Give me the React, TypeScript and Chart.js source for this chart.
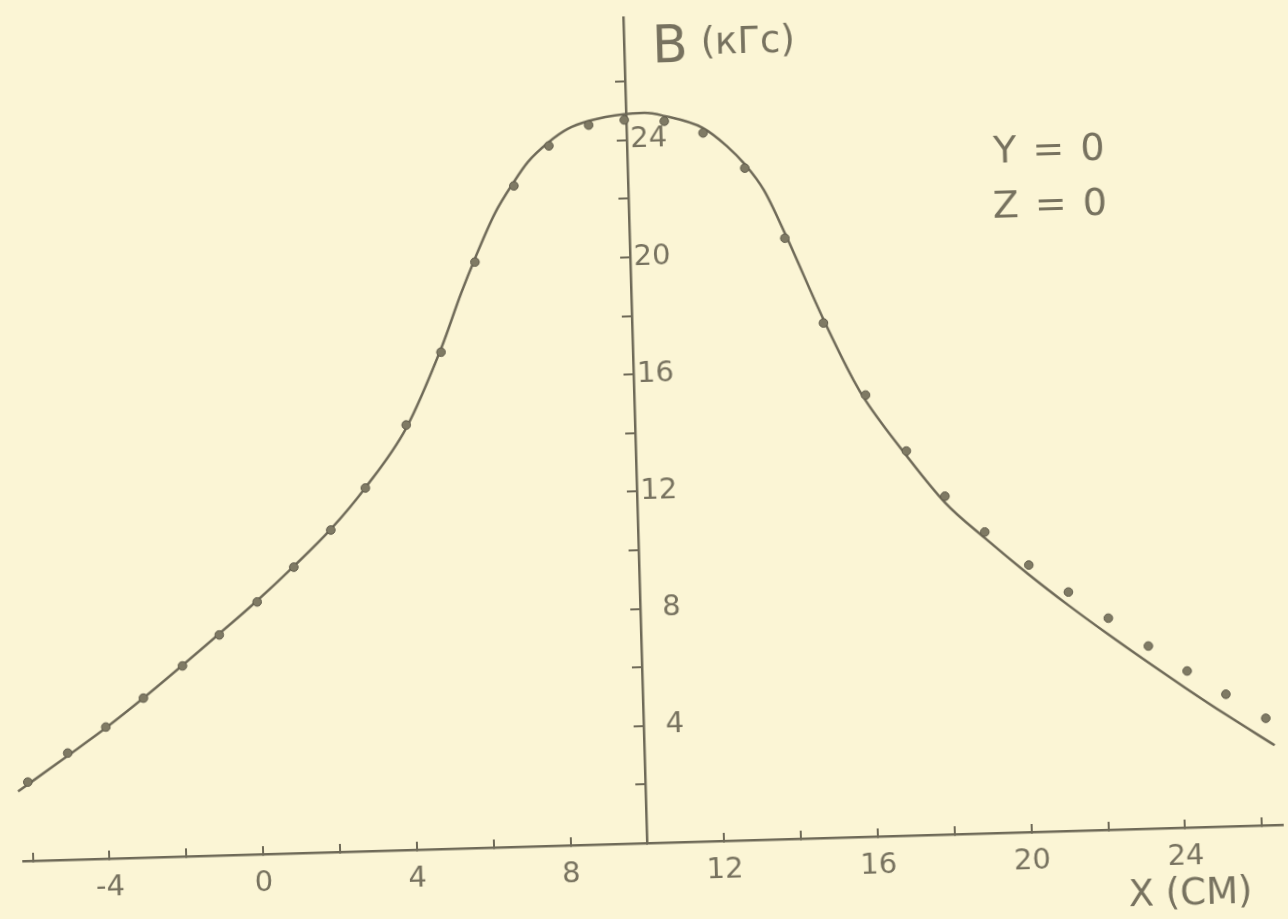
import React, { useEffect, useRef } from "react";
import { Chart, registerables } from "chart.js";

Chart.register(...registerables);

// Fitted curve B(X) (kGs vs cm)
const curveX = [-6.33, -5.01, -4.0, -3.0, -1.96, -0.98, 0.03, 1.01, 2.0, 2.93, 4.04, 5.01, 5.57, 5.96, 6.51, 7.02, 7.4, 7.96, 8.46, 9.01, 9.95, 10.47, 10.98, 11.98, 12.59, 13.05, 13.52, 14.03, 14.98, 15.71, 16.0, 17.02, 18.0, 19.01, 20.12, 21.13, 22.15, 23.16, 24.15, 25.14, 26.39];
const curveY = [2.38, 3.55, 4.46, 5.44, 6.52, 7.56, 8.65, 9.79, 11.02, 12.4, 14.4, 17.09, 18.95, 20.13, 21.64, 22.68, 23.35, 24.01, 24.44, 24.69, 24.89, 24.91, 24.79, 24.34, 23.7, 23.05, 22.16, 20.68, 17.67, 15.59, 14.9, 12.98, 11.32, 10.07, 8.79, 7.7, 6.66, 5.67, 4.73, 3.82, 2.72];

// Measured points
const pointX = [-6.07, -5.01, -4.0, -3.0, -1.96, -0.98, 0.03, 1.01, 2.0, 2.93, 4.04, 5.0, 5.95, 7.02, 7.96, 9.01, 9.94, 10.98, 11.98, 13.04, 14.03, 14.97, 16.01, 17.03, 18.0, 19.01, 20.13, 21.14, 22.16, 23.18, 24.17, 25.16, 26.18];
const pointY = [2.69, 3.64, 4.49, 5.44, 6.5, 7.52, 8.61, 9.76, 10.99, 12.39, 14.5, 16.95, 19.99, 22.55, 23.88, 24.55, 24.69, 24.61, 24.17, 22.93, 20.5, 17.57, 15.07, 13.12, 11.54, 10.28, 9.11, 8.15, 7.22, 6.23, 5.34, 4.51, 3.65];

// Axis ticks and labels
const xTickValues = [-6, -4, -2, 0, 2, 4, 6, 8, 10, 12, 14, 16, 18, 20, 22, 24, 26];
const xLabelValues = [-4, 0, 4, 8, 12, 16, 20, 24];
const yTickValues = [2, 4, 6, 8, 10, 12, 14, 16, 18, 20, 22, 24, 26];
const yLabelValues = [4, 8, 12, 16, 20, 24];

const X_MIN = -6.248;
const X_MAX = 26.533;
const Y_MIN = 0;
const Y_MAX = 28.19;
const Y_AXIS_AT = 10;
const Y_LABELS_AT = 11.04;

const BG = "#fbf5d5";
const INK = "#6f6a58";
const TEXT = "#77725f";
const FONT = "'DejaVu Sans', sans-serif";

const zeroPadding = (s: any) => {
  s.paddingTop = 0;
  s.paddingBottom = 0;
  s.paddingLeft = 0;
  s.paddingRight = 0;
};

export default function App() {
  const ref = useRef<HTMLCanvasElement | null>(null);

  useEffect(() => {
    if (!ref.current) return;
    Chart.defaults.font.family = FONT;
    const curve = curveX.map((x, i) => ({ x, y: curveY[i] }));
    const points = pointX.map((x, i) => ({ x, y: pointY[i] }));
    const chart = new Chart(ref.current, {
      type: "scatter",
      data: {
        datasets: [
          {
            type: "scatter",
            label: "measured",
            data: points,
            xAxisID: "x",
            yAxisID: "y",
            pointRadius: 4.3,
            pointBackgroundColor: "#7f7a64",
            pointBorderColor: "#5f5a4a",
            pointBorderWidth: 1,
            clip: false,
            order: 0,
          } as any,
          {
            type: "line",
            label: "curve",
            data: curve,
            xAxisID: "x",
            yAxisID: "y",
            borderColor: INK,
            borderWidth: 2.5,
            pointRadius: 0,
            fill: false,
            cubicInterpolationMode: "monotone",
            clip: false,
            order: 1,
          } as any,
        ],
      },
      options: {
        animation: false,
        responsive: false,
        maintainAspectRatio: false,
        devicePixelRatio: 1,
        events: [],
        layout: { padding: { left: 23, top: 17, right: 0, bottom: 0 } },
        plugins: {
          legend: { display: false },
          tooltip: { enabled: false },
        },
        scales: {
          x: {
            type: "linear",
            position: "bottom",
            min: X_MIN,
            max: X_MAX,
            afterBuildTicks: (s: any) => {
              s.ticks = xTickValues.map((v) => ({ value: v }));
            },
            afterFit: (s: any) => {
              s.height = 76;
              zeroPadding(s);
            },
            grid: {
              drawOnChartArea: false,
              drawTicks: true,
              tickLength: -8,
              color: INK,
              lineWidth: 2,
            },
            border: { display: true, color: INK, width: 2.5 },
            ticks: {
              autoSkip: false,
              maxRotation: 0,
              padding: 20,
              color: TEXT,
              font: { size: 29, family: FONT },
              callback: (v: any) => (xLabelValues.includes(Number(v)) ? String(v) : ""),
            },
          },
          y: {
            type: "linear",
            position: { x: Y_AXIS_AT } as any,
            min: Y_MIN,
            max: Y_MAX,
            afterBuildTicks: (s: any) => {
              s.ticks = yTickValues.map((v) => ({ value: v }));
            },
            afterFit: zeroPadding,
            grid: {
              drawOnChartArea: false,
              drawTicks: true,
              tickLength: 9,
              color: INK,
              lineWidth: 2,
            },
            border: { display: true, color: INK, width: 2.5 },
            ticks: { display: false },
          },
          yl: {
            type: "linear",
            axis: "y",
            position: { x: Y_LABELS_AT } as any,
            min: Y_MIN,
            max: Y_MAX,
            afterBuildTicks: (s: any) => {
              s.ticks = yLabelValues.map((v) => ({ value: v }));
            },
            afterFit: zeroPadding,
            grid: { display: false, drawTicks: false },
            border: { display: false },
            ticks: {
              padding: 0,
              color: TEXT,
              font: { size: 29, family: FONT },
              callback: (v: any) => String(v),
            },
          } as any,
        },
      },
    });
    return () => chart.destroy();
  }, []);

  const text: React.CSSProperties = {
    position: "absolute",
    fontFamily: FONT,
    color: TEXT,
    lineHeight: 1,
    whiteSpace: "nowrap",
  };

  return (
    <div
      style={{
        position: "fixed",
        left: 0,
        top: 0,
        width: 1288,
        height: 919,
        background: BG,
        overflow: "hidden",
      }}
    >
      <div
        style={{
          position: "absolute",
          left: 0,
          top: 0,
          width: 1288,
          height: 919,
          transform: "rotate(-1.65deg)",
          transformOrigin: "650px 843px",
        }}
      >
        <canvas
          ref={ref}
          width={1288}
          height={919}
          style={{ position: "absolute", left: 0, top: 0, width: 1288, height: 919 }}
        />
        <div style={{ ...text, left: 675, top: 19, fontSize: 52 }}>
          B
          <span style={{ fontSize: 37, marginLeft: 13, position: "relative", top: -7 }}>(кГс)</span>
        </div>
        <div style={{ ...text, left: 1013, top: 141, fontSize: 38, wordSpacing: 4 }}>Y = 0</div>
        <div style={{ ...text, left: 1011, top: 196, fontSize: 38, wordSpacing: 4 }}>Z = 0</div>
        <div style={{ ...text, left: 1127, top: 889, fontSize: 37 }}>X (СМ)</div>
      </div>
    </div>
  );
}
